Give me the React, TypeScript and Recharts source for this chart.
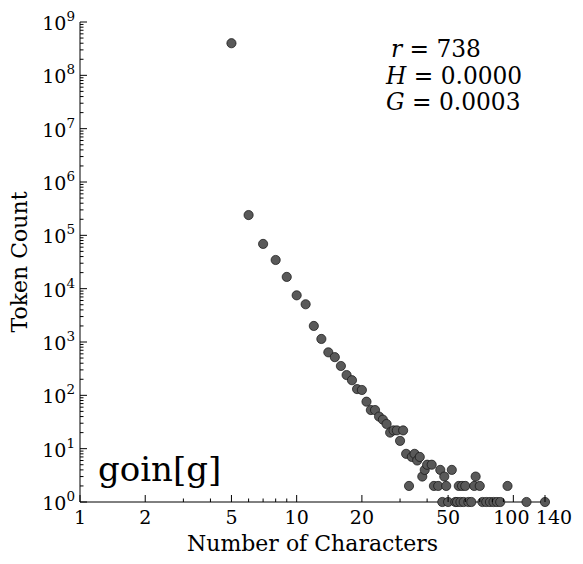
import React from 'react';
import { ScatterChart, Scatter, XAxis, YAxis } from 'recharts';

const lengths = [5, 6, 7, 8, 9, 10, 11, 12, 13, 14, 15, 16, 17, 18, 19, 20, 21, 22, 23, 24, 25, 26, 27, 28, 29, 30, 31, 32, 33, 34, 35, 36, 37, 38, 39, 40, 42, 43, 45, 46, 47, 48, 49, 50, 52, 54, 55, 56, 57, 58, 59, 60, 62, 64, 66, 67, 70, 72, 75, 78, 81, 84, 87, 94, 115, 140];
const counts = [4.0e8, 2.4e5, 6.9e4, 3.45e4, 1.66e4, 7.5e3, 5.1e3, 2.0e3, 1.14e3, 640, 520, 355, 240, 192, 131, 126, 76, 53, 53, 40, 35, 29, 20, 22, 22, 14, 22, 8, 2, 7, 8, 6, 7, 3, 4, 5, 5, 2, 2, 4, 1, 3, 2, 1, 4, 1, 1, 2, 1, 2, 1, 2, 1, 1, 2, 3, 2, 1, 1, 1, 1, 1, 1, 2, 1, 1];

const xMajorTicks = [1, 2, 5, 10, 20, 50, 100, 140];
const xMinorTicks = [3, 4, 6, 7, 8, 9, 30, 40, 60, 70, 80, 90];
const yMajorTicks = [1, 10, 100, 1e3, 1e4, 1e5, 1e6, 1e7, 1e8, 1e9];
const yMinorMultipliers = [2, 3, 4, 5, 6, 7, 8, 9];

const statLines = [
  { sym: 'r', text: ' = 738' },
  { sym: 'H', text: ' = 0.0000' },
  { sym: 'G', text: ' = 0.0003' },
];
const wordLabel = 'goin[g]';
const xLabel = 'Number of Characters';
const yLabel = 'Token Count';

const data = lengths.map((x, i) => ({ x, y: counts[i] }));
const xTicks = [...xMajorTicks, ...xMinorTicks].sort((a, b) => a - b);
const yMinorTicks: number[] = [];
yMajorTicks.slice(0, -1).forEach((d) => yMinorMultipliers.forEach((m) => yMinorTicks.push(m * d)));
const yTicks = [...yMajorTicks, ...yMinorTicks].sort((a, b) => a - b);

const FONT = '"DejaVu Serif", serif';
const MAJOR = 7;
const MINOR = 3.5;

const XBottomTick = (props: any) => {
  const { x, y, payload } = props;
  const major = xMajorTicks.includes(payload.value);
  const dx = payload.value === 140 ? 9 : payload.value === 100 ? -2 : 0;
  return (
    <g>
      <line x1={x} x2={x} y1={y} y2={y - (major ? MAJOR : MINOR)} stroke="#000" strokeWidth={1} />
      {major && (
        <text x={x + dx} y={y + 21.5} textAnchor="middle" fontFamily={FONT} fontSize={19} fill="#000">
          {payload.value}
        </text>
      )}
    </g>
  );
};

const XTopTick = (props: any) => {
  const { x, y, payload } = props;
  const major = xMajorTicks.includes(payload.value);
  return <line x1={x} x2={x} y1={y} y2={y + (major ? MAJOR : MINOR)} stroke="#000" strokeWidth={1} />;
};

const YLeftTick = (props: any) => {
  const { x, y, payload } = props;
  const major = yMajorTicks.includes(payload.value);
  const exp = Math.round(Math.log10(payload.value));
  return (
    <g>
      <line x1={x} x2={x + (major ? MAJOR : MINOR)} y1={y} y2={y} stroke="#000" strokeWidth={1} />
      {major && (
        <text x={x - 5} y={y + 8} textAnchor="end" fontFamily={FONT} fontSize={19} fill="#000">
          <tspan>10</tspan>
          <tspan dy={-9} fontSize={13.5}>{exp}</tspan>
        </text>
      )}
    </g>
  );
};

const YRightTick = (props: any) => {
  const { x, y, payload } = props;
  const major = yMajorTicks.includes(payload.value);
  return <line x1={x} x2={x - (major ? MAJOR : MINOR)} y1={y} y2={y} stroke="#000" strokeWidth={1} />;
};

const Dot = (props: any) => {
  const { cx, cy } = props;
  if (cx == null || cy == null) return null;
  return <circle cx={cx} cy={cy} r={4.6} fill="#595959" stroke="#111" strokeWidth={0.7} />;
};

export default function App() {
  return (
    <div style={{ position: 'absolute', left: 0, top: 0, width: 583, height: 564, background: '#fff' }}>
      <ScatterChart width={583} height={564} margin={{ top: 22, right: 38, bottom: 0, left: 0 }}>
        <XAxis
          xAxisId="b"
          dataKey="x"
          type="number"
          scale="log"
          domain={[1, 140]}
          ticks={xTicks}
          interval={0}
          orientation="bottom"
          height={62}
          tickSize={0}
          tickMargin={0}
          tickLine={false}
          axisLine={{ stroke: '#000', strokeWidth: 1 }}
          tick={XBottomTick}
        />
        <XAxis
          xAxisId="t"
          dataKey="x"
          type="number"
          scale="log"
          domain={[1, 140]}
          ticks={xTicks}
          interval={0}
          orientation="top"
          height={0}
          tickSize={0}
          tickMargin={0}
          tickLine={false}
          axisLine={{ stroke: '#000', strokeWidth: 1 }}
          tick={XTopTick}
        />
        <YAxis
          yAxisId="l"
          dataKey="y"
          type="number"
          scale="log"
          domain={[1, 1e9]}
          ticks={yTicks}
          interval={0}
          orientation="left"
          width={80}
          tickSize={0}
          tickMargin={0}
          tickLine={false}
          axisLine={{ stroke: '#000', strokeWidth: 1 }}
          tick={YLeftTick}
        />
        <YAxis
          yAxisId="r"
          dataKey="y"
          type="number"
          scale="log"
          domain={[1, 1e9]}
          ticks={yTicks}
          interval={0}
          orientation="right"
          width={0}
          tickSize={0}
          tickMargin={0}
          tickLine={false}
          axisLine={{ stroke: '#000', strokeWidth: 1 }}
          tick={YRightTick}
        />
        <Scatter xAxisId="b" yAxisId="l" data={data} shape={Dot} isAnimationActive={false} />
        <Scatter xAxisId="t" yAxisId="r" data={data} shape={() => null} isAnimationActive={false} />
      </ScatterChart>
      <svg
        width={583}
        height={564}
        style={{ position: 'absolute', left: 0, top: 0, pointerEvents: 'none' }}
      >
        {statLines.map((l, i) => (
          <text
            key={l.sym}
            x={i === 0 ? 391 : 386}
            y={57 + i * 26.5}
            fontFamily={FONT}
            fontSize={23.3}
            fill="#000"
          >
            <tspan fontStyle="italic">{l.sym}</tspan>
            <tspan>{l.text}</tspan>
          </text>
        ))}
        <text x={98} y={481} fontFamily={FONT} fontSize={34} fill="#000">
          {wordLabel}
        </text>
        <text x={312.5} y={551} textAnchor="middle" fontFamily={FONT} fontSize={22} fill="#000">
          {xLabel}
        </text>
        <text
          x={27}
          y={262}
          textAnchor="middle"
          fontFamily={FONT}
          fontSize={22}
          fill="#000"
          transform="rotate(-90, 27, 262)"
        >
          {yLabel}
        </text>
      </svg>
    </div>
  );
}
